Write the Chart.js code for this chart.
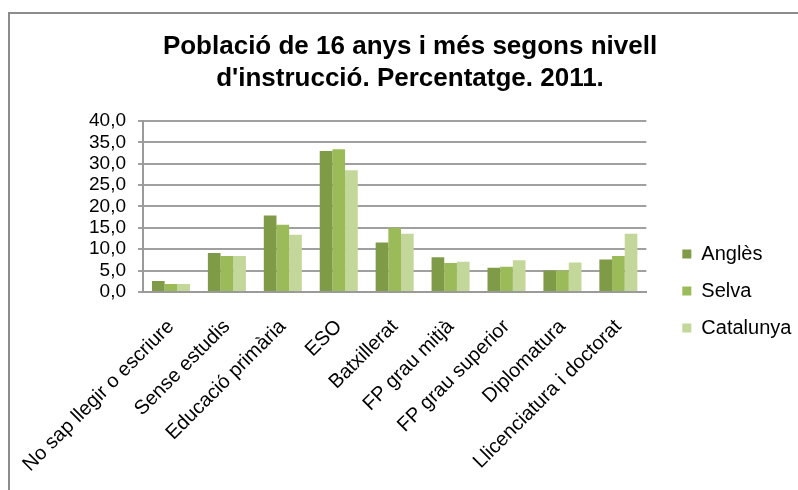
<!DOCTYPE html>
<html>
<head>
<meta charset="utf-8">
<script src="https://cdn.jsdelivr.net/npm/chart.js@4/dist/chart.umd.min.js"></script>
<style>
  html, body { margin: 0; padding: 0; background: #fff; overflow: hidden; }
  #frame { position: absolute; left: 8px; top: 12px; width: 900px; height: 600px; border: 2px solid #8c8c8c; }
  #wrap { position: absolute; left: 0; top: 0; width: 798px; height: 490px; }
</style>
</head>
<body>
<div id="frame"></div>
<div id="wrap"><canvas id="myChart" width="798" height="490"></canvas></div>
<script>
const categories = ["No sap llegir o escriure", "Sense estudis", "Educació primària", "ESO", "Batxillerat",
  "FP grau mitjà", "FP grau superior", "Diplomatura", "Llicenciatura i doctorat"];
const angles = [2.6, 9.1, 17.9, 33.0, 11.6, 8.1, 5.7, 5.0, 7.6];
const selva = [1.9, 8.4, 15.7, 33.4, 15.0, 6.8, 5.9, 5.0, 8.4];
const catalunya = [1.9, 8.4, 13.4, 28.5, 13.6, 7.1, 7.4, 6.9, 13.6];
const yMin = 0, yMax = 40, yStep = 5;

const font = "'Liberation Sans', Arial, sans-serif";
const ctx = document.getElementById("myChart").getContext("2d");

new Chart(ctx, {
  type: "bar",
  data: {
    labels: categories,
    datasets: [
      { label: "Anglès", data: angles, backgroundColor: "#7f9b48" },
      { label: "Selva", data: selva, backgroundColor: "#9bbb59" },
      { label: "Catalunya", data: catalunya, backgroundColor: "#c4d79b" }
    ]
  },
  options: {
    responsive: false,
    animation: false,
    layout: { padding: { left: 27, right: 5, top: 0, bottom: 0 } },
    datasets: { bar: { categoryPercentage: 0.68, barPercentage: 1.0 } },
    plugins: {
      title: {
        display: true,
        text: ["Població de 16 anys i més segons nivell", "d'instrucció. Percentatge. 2011."],
        color: "#000",
        font: { family: font, size: 26, weight: "bold", lineHeight: 1.23 },
        padding: { top: 31, bottom: 26 }
      },
      legend: {
        position: "right",
        title: { display: true, text: " ", font: { size: 10, lineHeight: 1.2 }, padding: { top: 80, bottom: 0 } },
        labels: {
          color: "#000",
          font: { family: font, size: 20 },
          boxWidth: 9,
          boxHeight: 9,
          padding: 17
        }
      },
      tooltip: { enabled: false }
    },
    scales: {
      x: {
        grid: { display: false },
        border: { display: true, color: "#9a9a9a", width: 2 },
        ticks: {
          color: "#000",
          font: { family: font, size: 20 },
          minRotation: 45,
          maxRotation: 45,
          padding: 15,
          autoSkip: false
        },
        afterFit: (s) => { s.height = 198; }
      },
      y: {
        min: yMin,
        max: yMax,
        grid: { color: "#a0a0a0", lineWidth: 2, tickLength: 5 },
        border: { display: true, color: "#9a9a9a", width: 2 },
        ticks: {
          stepSize: yStep,
          autoSkip: false,
          color: "#000",
          font: { family: font, size: 19 },
          padding: 12,
          callback: (v) => v.toFixed(1).replace(".", ",")
        },
        afterFit: (s) => { s.width = 116; }
      },
      gap: {
        position: "right",
        display: true,
        grid: { display: false, drawTicks: false },
        border: { display: false },
        ticks: { display: false },
        afterFit: (s) => { s.width = 19; }
      }
    }
  }
});
</script>
</body>
</html>
